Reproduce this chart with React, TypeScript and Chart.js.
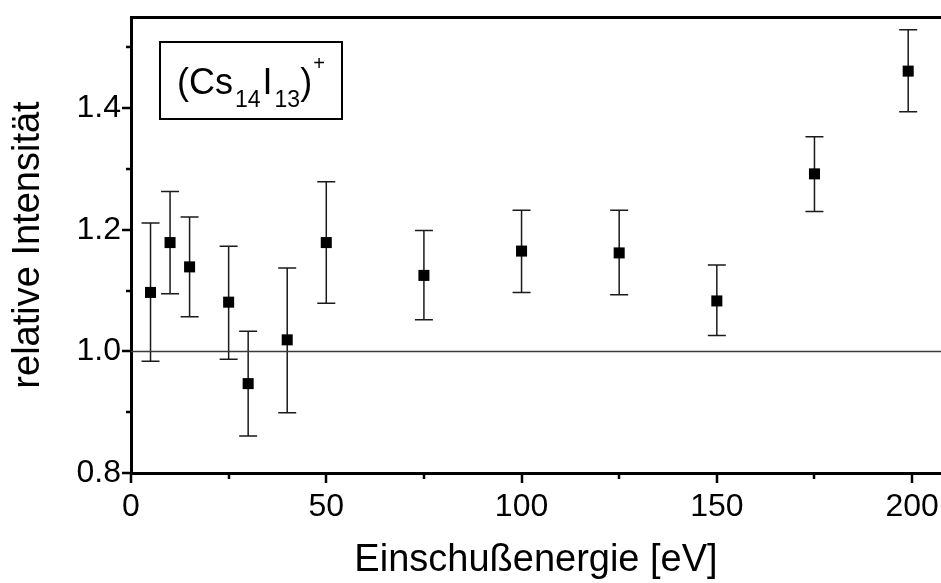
import React, { useEffect, useRef } from "react";
import { Chart, registerables } from "chart.js";

Chart.register(...registerables);

// ---- data ----
const energies = [5, 10, 15, 25, 30, 40, 50, 75, 100, 125, 150, 175, 199];
const intensity = [1.097, 1.179, 1.139, 1.081, 0.947, 1.019, 1.179, 1.125, 1.165, 1.162, 1.083, 1.292, 1.461];
const errLow = [0.984, 1.095, 1.057, 0.987, 0.861, 0.899, 1.079, 1.052, 1.097, 1.093, 1.026, 1.23, 1.394];
const errHigh = [1.211, 1.263, 1.221, 1.173, 1.033, 1.137, 1.279, 1.199, 1.232, 1.232, 1.142, 1.353, 1.529];
const referenceLevel = 1.0;

const xMin = 0;
const xMax = 207.4;
const yMin = 0.8;
const yMax = 1.55;
const xMajorTicks = [0, 50, 100, 150, 200];
const xMinorTicks = [25, 75, 125, 175];
const yMajorTicks = [0.8, 1.0, 1.2, 1.4];
const yMinorTicks = [0.9, 1.1, 1.3, 1.5];
const xTitle = "Einschußenergie [eV]";
const yTitle = "relative Intensität";
const labelParts = [
  { t: "(Cs", kind: "main" },
  { t: "14", kind: "sub" },
  { t: "I", kind: "main" },
  { t: "13", kind: "sub" },
  { t: ")", kind: "main" },
  { t: "+", kind: "sup" },
];

const FONT = "'Liberation Sans', Arial, Helvetica, sans-serif";

const errorBarsPlugin = {
  id: "errorBars",
  beforeDatasetsDraw(chart: any) {
    const { ctx, scales } = chart;
    const xs = scales.x;
    const ys = scales.y;
    ctx.save();
    ctx.strokeStyle = "#1a1a1a";
    ctx.lineWidth = 1.5;
    for (let i = 0; i < energies.length; i++) {
      const px = xs.getPixelForValue(energies[i]);
      const pLo = ys.getPixelForValue(errLow[i]);
      const pHi = ys.getPixelForValue(errHigh[i]);
      ctx.beginPath();
      ctx.moveTo(px, pLo);
      ctx.lineTo(px, pHi);
      ctx.moveTo(px - 9, pLo);
      ctx.lineTo(px + 9, pLo);
      ctx.moveTo(px - 9, pHi);
      ctx.lineTo(px + 9, pHi);
      ctx.stroke();
    }
    ctx.restore();
  },
};

const tickMarksPlugin = {
  id: "tickMarks",
  afterDraw(chart: any) {
    const { ctx, scales, chartArea } = chart;
    const xs = scales.x;
    const ys = scales.y;
    ctx.save();
    ctx.strokeStyle = "#000";
    ctx.lineWidth = 2.5;
    ctx.beginPath();
    const drawX = (v: number, len: number) => {
      const px = Math.round(xs.getPixelForValue(v));
      ctx.moveTo(px, chartArea.bottom);
      ctx.lineTo(px, chartArea.bottom + len);
    };
    const drawY = (v: number, len: number) => {
      const py = Math.round(ys.getPixelForValue(v));
      ctx.moveTo(chartArea.left, py);
      ctx.lineTo(chartArea.left - len, py);
    };
    xMajorTicks.forEach((v) => drawX(v, 10));
    xMinorTicks.forEach((v) => drawX(v, 6));
    yMajorTicks.forEach((v) => drawY(v, 9));
    yMinorTicks.forEach((v) => drawY(v, 5));
    ctx.stroke();
    ctx.restore();
  },
};

const labelBoxPlugin = {
  id: "labelBox",
  afterDraw(chart: any) {
    const { ctx, chartArea: ca } = chart;
    const bx = ca.left + 29;
    const by = ca.top + 25;
    const bw = 182;
    const bh = 77;
    ctx.save();
    ctx.lineWidth = 2;
    ctx.strokeStyle = "#000";
    ctx.strokeRect(bx, by, bw, bh);
    ctx.fillStyle = "#000";
    ctx.textBaseline = "alphabetic";
    ctx.textAlign = "left";
    let x = bx + 17;
    const base = by + 52;
    for (const p of labelParts) {
      let size = 36;
      let dy = 0;
      if (p.kind === "sub") {
        size = 23;
        dy = 13;
        x += 2;
      } else if (p.kind === "sup") {
        size = 20;
        dy = -24;
        x += 1;
      } else if (p.t === "I") {
        x += 2;
      }
      ctx.font = `${size}px ${FONT}`;
      ctx.fillText(p.t, x, base + dy);
      x += ctx.measureText(p.t).width;
    }
    ctx.restore();
  },
};

export default function App() {
  const canvasRef = useRef<HTMLCanvasElement | null>(null);

  useEffect(() => {
    if (!canvasRef.current) return;
    const points = energies.map((e, i) => ({ x: e, y: intensity[i] }));
    const chart = new Chart(canvasRef.current, {
      type: "scatter",
      data: {
        datasets: [
          {
            type: "line",
            label: "reference",
            data: [
              { x: xMin, y: referenceLevel },
              { x: xMax, y: referenceLevel },
            ],
            borderColor: "#3a3a3a",
            borderWidth: 1.5,
            pointRadius: 0,
            fill: false,
            order: 2,
          } as any,
          {
            label: "(Cs14I13)+",
            data: points,
            pointStyle: "rect",
            pointRadius: 7.8,
            pointHoverRadius: 7.8,
            backgroundColor: "#000",
            borderColor: "#000",
            borderWidth: 0,
            order: 1,
          },
        ],
      },
      options: {
        responsive: false,
        animation: false,
        events: [],
        layout: { padding: 0, autoPadding: false },
        plugins: {
          legend: { display: false },
          tooltip: { enabled: false },
        },
        scales: {
          x: {
            type: "linear",
            position: "bottom",
            min: xMin,
            max: xMax,
            afterBuildTicks: (scale: any) => {
              scale.ticks = xMajorTicks.map((v) => ({ value: v }));
            },
            afterFit: (scale: any) => {
              scale.height = 110;
              scale.paddingLeft = 0;
              scale.paddingRight = 0;
            },
            grid: { display: false, drawTicks: false },
            border: { display: true, color: "#000", width: 3 },
            ticks: {
              autoSkip: false,
              maxRotation: 0,
              padding: 15,
              color: "#000",
              font: { family: FONT, size: 32 },
              callback: (v: any) => String(v),
            },
            title: {
              display: true,
              text: xTitle,
              color: "#000",
              font: { family: FONT, size: 38 },
              padding: { top: 0, bottom: 0 },
            },
          },
          xTop: {
            type: "linear",
            position: "top",
            min: xMin,
            max: xMax,
            afterFit: (scale: any) => {
              scale.height = 17;
              scale.paddingLeft = 0;
              scale.paddingRight = 0;
            },
            grid: { display: false, drawTicks: false },
            border: { display: true, color: "#000", width: 3 },
            ticks: { display: false },
          },
          y: {
            type: "linear",
            position: "left",
            min: yMin,
            max: yMax,
            afterBuildTicks: (scale: any) => {
              scale.ticks = yMajorTicks.map((v) => ({ value: v }));
            },
            afterFit: (scale: any) => {
              scale.width = 131;
              scale.paddingTop = 0;
              scale.paddingBottom = 0;
            },
            grid: { display: false, drawTicks: false },
            border: { display: true, color: "#000", width: 3 },
            ticks: {
              padding: 10,
              color: "#000",
              font: { family: FONT, size: 32 },
              callback: (v: any) => Number(v).toFixed(1),
            },
            title: {
              display: true,
              text: yTitle,
              color: "#000",
              font: { family: FONT, size: 38 },
              padding: { top: 6, bottom: 0 },
            },
          },
        },
      },
      plugins: [errorBarsPlugin, tickMarksPlugin, labelBoxPlugin],
    });
    return () => chart.destroy();
  }, []);

  return (
    <div style={{ position: "fixed", left: 0, top: 0, width: 941, height: 583, background: "#fff", overflow: "hidden" }}>
      <canvas ref={canvasRef} width={941} height={583} style={{ display: "block" }} />
    </div>
  );
}
